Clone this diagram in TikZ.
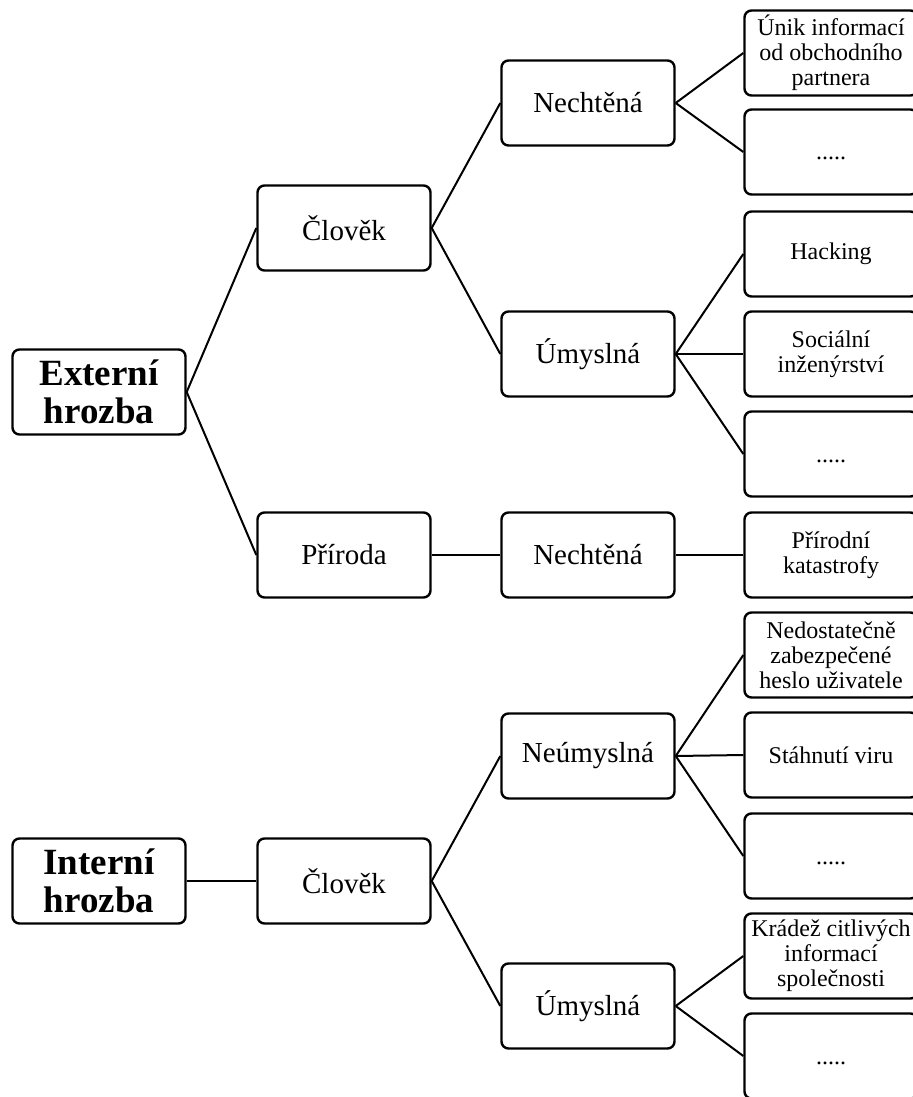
\documentclass[tikz,border=0pt]{standalone}
\usepackage{fontspec}
\setmainfont{Liberation Serif}
\usepackage{tikz}

\begin{document}
\begin{tikzpicture}[x=0.5pt, y=-0.5pt,
		box/.style={draw, line width=1.2pt, rounded corners=3.5pt, minimum width=86.5pt, minimum height=42.5pt, align=center, inner sep=2pt},
		root/.style={box, font=\fontsize{18.5}{19}\selectfont\bfseries},
		mid/.style={box, font=\fontsize{14.5}{16}\selectfont},
		leaf/.style={box, font=\fontsize{12}{12.5}\selectfont},
		dots/.style={leaf, execute at begin node=\rule[-3pt]{0pt}{14pt}},
		conn/.style={line width=1pt}]
			\useasboundingbox (0,0) rectangle (913,1097);
			\clip (0,0) rectangle (913,1097);
			\node[root] (ext) at (99, 392) {Externí\\hrozba};
			\node[root] (int) at (99, 881) {Interní\\hrozba};
			\node[mid] (clovekA) at (344, 228) {Člověk};
			\node[mid] (priroda) at (344, 555) {Příroda};
			\node[mid] (clovekB) at (344, 881) {Člověk};
			\node[mid] (nechtA) at (588, 103) {Nechtěná};
			\node[mid] (umyslA) at (588, 354) {Úmyslná};
			\node[mid] (nechtB) at (588, 555) {Nechtěná};
			\node[mid] (neumysl) at (588, 756) {Neúmyslná};
			\node[mid] (umyslB) at (588, 1006) {Úmyslná};
			\node[leaf] (unik) at (831, 53) {Únik informací\\od obchodního\\partnera};
			\node[dots] (dotsA) at (831, 152) {.....};
			\node[leaf] (hacking) at (831, 254) {Hacking};
			\node[leaf] (social) at (831, 354) {Sociální\\inženýrství};
			\node[dots] (dotsB) at (831, 454) {.....};
			\node[leaf] (katastrofy) at (831, 555) {Přírodní\\katastrofy};
			\node[leaf] (heslo) at (831, 655) {Nedostatečně\\zabezpečené\\heslo uživatele};
			\node[leaf] (virus) at (831, 755) {Stáhnutí viru};
			\node[dots] (dotsC) at (831, 856) {.....};
			\node[leaf] (kradez) at (831, 956) {Krádež citlivých\\informací\\společnosti};
			\node[dots] (dotsD) at (831, 1056) {.....};
			\draw[conn] (ext.east) -- (clovekA.west);
			\draw[conn] (ext.east) -- (priroda.west);
			\draw[conn] (int.east) -- (clovekB.west);
			\draw[conn] (clovekA.east) -- (nechtA.west);
			\draw[conn] (clovekA.east) -- (umyslA.west);
			\draw[conn] (priroda.east) -- (nechtB.west);
			\draw[conn] (clovekB.east) -- (neumysl.west);
			\draw[conn] (clovekB.east) -- (umyslB.west);
			\draw[conn] (nechtA.east) -- (unik.west);
			\draw[conn] (nechtA.east) -- (dotsA.west);
			\draw[conn] (umyslA.east) -- (hacking.west);
			\draw[conn] (umyslA.east) -- (social.west);
			\draw[conn] (umyslA.east) -- (dotsB.west);
			\draw[conn] (nechtB.east) -- (katastrofy.west);
			\draw[conn] (neumysl.east) -- (heslo.west);
			\draw[conn] (neumysl.east) -- (virus.west);
			\draw[conn] (neumysl.east) -- (dotsC.west);
			\draw[conn] (umyslB.east) -- (kradez.west);
			\draw[conn] (umyslB.east) -- (dotsD.west);
		\end{tikzpicture}
\end{document}
